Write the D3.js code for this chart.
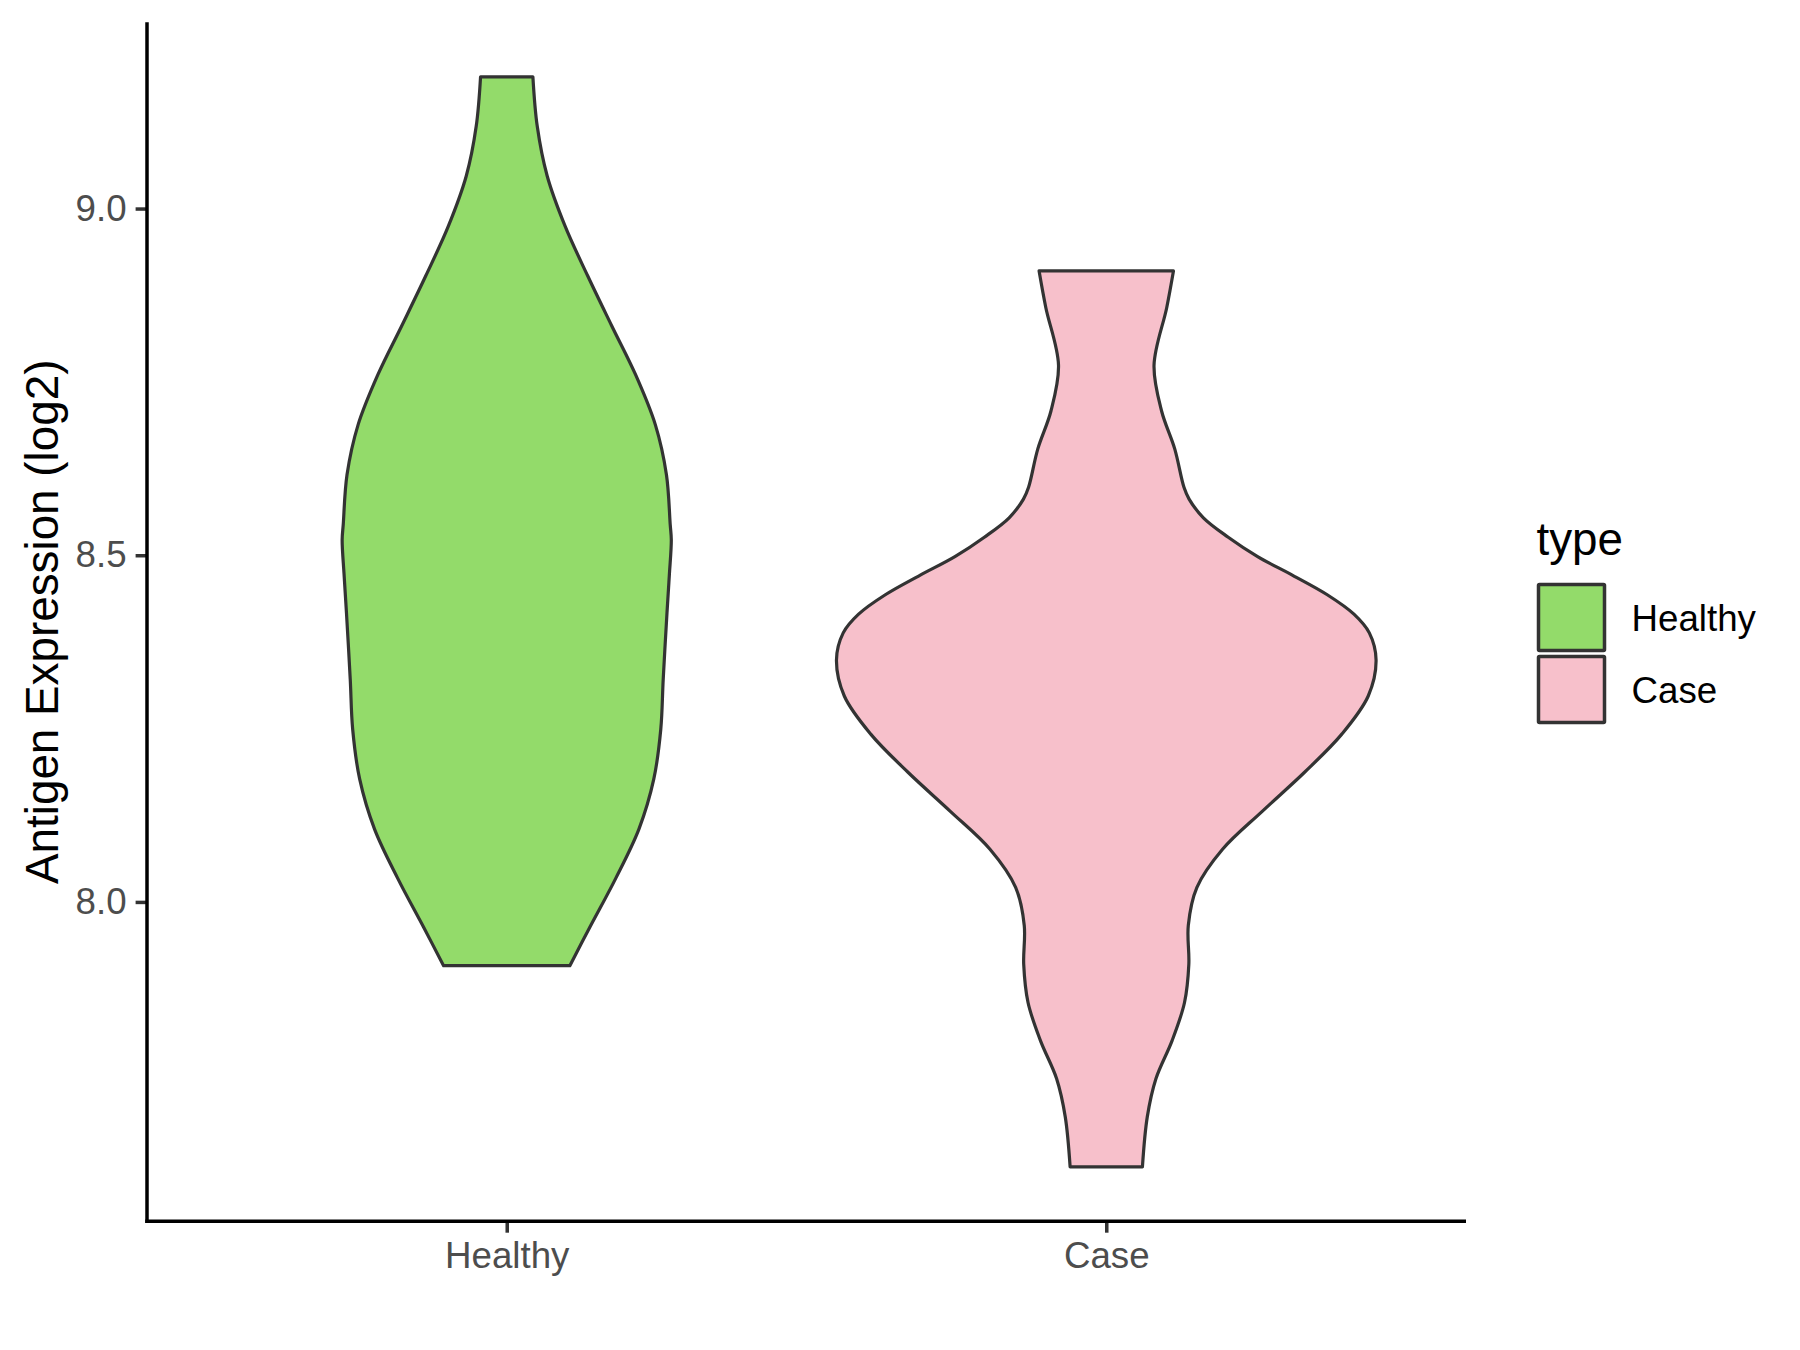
<!DOCTYPE html>
<html>
<head>
<meta charset="utf-8">
<script src="https://cdn.jsdelivr.net/npm/d3@7"></script>
<style>
html, body { margin: 0; padding: 0; background: #ffffff; }
svg { display: block; font-family: "Liberation Sans", Arial, sans-serif; }
</style>
</head>
<body>
<svg id="chart" width="1800" height="1350"></svg>
<script>
// ---- data ----
const categories = ["Healthy", "Case"];
const fillColors = ["#93DB6A", "#F7C0CB"];
const yTickValues = [8.0, 8.5, 9.0];
const yTickLabels = ["8.0", "8.5", "9.0"];
const yTitle = "Antigen Expression (log2)";
const legendTitle = "type";

// violin profiles: expression values and relative density (width)
const healthyValues  = [9.190, 9.119, 9.047, 8.975, 8.903, 8.831, 8.760, 8.688, 8.616, 8.544, 8.522, 8.473, 8.417, 8.321, 8.249, 8.177, 8.105, 8.034, 7.962, 7.908];
const healthyDensity = [0.097, 0.113, 0.150, 0.216, 0.300, 0.389, 0.478, 0.551, 0.592, 0.606, 0.610, 0.603, 0.594, 0.580, 0.571, 0.545, 0.490, 0.404, 0.306, 0.234];

const caseValues  = [8.910, 8.857, 8.774, 8.708, 8.653, 8.598, 8.581, 8.554, 8.526, 8.498, 8.471, 8.443, 8.415, 8.388, 8.349, 8.297, 8.242, 8.187, 8.131, 8.076, 8.021, 7.966, 7.910, 7.855, 7.800, 7.745, 7.690, 7.618];
const caseDensity = [0.249, 0.224, 0.177, 0.205, 0.254, 0.288, 0.307, 0.360, 0.452, 0.561, 0.691, 0.819, 0.918, 0.975, 1.000, 0.971, 0.873, 0.735, 0.579, 0.431, 0.336, 0.304, 0.306, 0.290, 0.244, 0.184, 0.152, 0.134];

// ---- layout ----
const panel = { left: 147, right: 1466, top: 22.3, bottom: 1221.3 };
const svg = d3.select("#chart");

const groups = [
  { name: categories[0], values: healthyValues, density: healthyDensity, fill: fillColors[0] },
  { name: categories[1], values: caseValues, density: caseDensity, fill: fillColors[1] }
];

const allVals = healthyValues.concat(caseValues);
const vmin = d3.min(allVals), vmax = d3.max(allVals);
const pad = (vmax - vmin) * 0.05;

const y = d3.scaleLinear().domain([vmin - pad, vmax + pad]).range([panel.bottom, panel.top]);
const x = d3.scalePoint().domain(categories).range([panel.left, panel.right]).padding(0.6);
const w = d3.scaleLinear().domain([0, 1]).range([0, x.step() * 0.45]);

// ---- violins ----
groups.forEach(g => {
  const pts = g.values.map((v, i) => ({ v: v, d: g.density[i] }));
  const cx = x(g.name);
  const area = d3.area()
    .y(d => y(d.v))
    .x0(d => cx - w(d.d))
    .x1(d => cx + w(d.d))
    .curve(d3.curveCatmullRom.alpha(0.5));
  svg.append("path")
    .attr("d", area(pts))
    .attr("fill", g.fill)
    .attr("stroke", "#333333")
    .attr("stroke-width", 3.2)
    .attr("stroke-linejoin", "round");
});

// ---- axes ----
const yAxis = d3.axisLeft(y).tickValues(yTickValues).tickFormat((d, i) => yTickLabels[i]).tickSizeOuter(0).tickSize(11.4).tickPadding(9);
const gy = svg.append("g").attr("transform", `translate(${panel.left},0)`).call(yAxis);
gy.select(".domain").remove();
gy.selectAll(".tick line").attr("stroke", "#333333").attr("stroke-width", 3.5);
gy.selectAll(".tick text").attr("fill", "#4D4D4D").style("font-size", "36.7px").style("font-family", "'Liberation Sans', Arial, sans-serif");

const xAxis = d3.axisBottom(x).tickSizeOuter(0).tickSize(11.4).tickPadding(9);
const gx = svg.append("g").attr("transform", `translate(0,${panel.bottom})`).call(xAxis);
gx.select(".domain").remove();
gx.selectAll(".tick line").attr("stroke", "#333333").attr("stroke-width", 3.5);
gx.selectAll(".tick text").attr("fill", "#4D4D4D").style("font-size", "36.7px").style("font-family", "'Liberation Sans', Arial, sans-serif");

// axis lines
svg.append("line").attr("x1", panel.left).attr("x2", panel.left).attr("y1", panel.top).attr("y2", panel.bottom + 1.75)
  .attr("stroke", "#000").attr("stroke-width", 3.5);
svg.append("line").attr("x1", panel.left - 1.75).attr("x2", panel.right).attr("y1", panel.bottom).attr("y2", panel.bottom)
  .attr("stroke", "#000").attr("stroke-width", 3.5);

// y title
svg.append("text")
  .attr("transform", `translate(57.5,${(panel.top + panel.bottom) / 2}) rotate(-90)`)
  .attr("text-anchor", "middle")
  .attr("fill", "#000")
  .style("font-size", "45.8px")
  .text(yTitle);

// ---- legend ----
const leg = svg.append("g");
leg.append("text").attr("x", 1536.5).attr("y", 555).attr("fill", "#000").style("font-size", "45.8px").text(legendTitle);
groups.forEach((g, i) => {
  const top = 584.5 + i * 72;
  leg.append("rect").attr("x", 1538.5).attr("y", top).attr("width", 66).attr("height", 66)
    .attr("fill", g.fill).attr("stroke", "#333333").attr("stroke-width", 3.5).attr("rx", 1);
  leg.append("text").attr("x", 1631.5).attr("y", top + 33 + 13.1).attr("fill", "#000").style("font-size", "36.7px").text(g.name);
});
</script>
</body>
</html>
